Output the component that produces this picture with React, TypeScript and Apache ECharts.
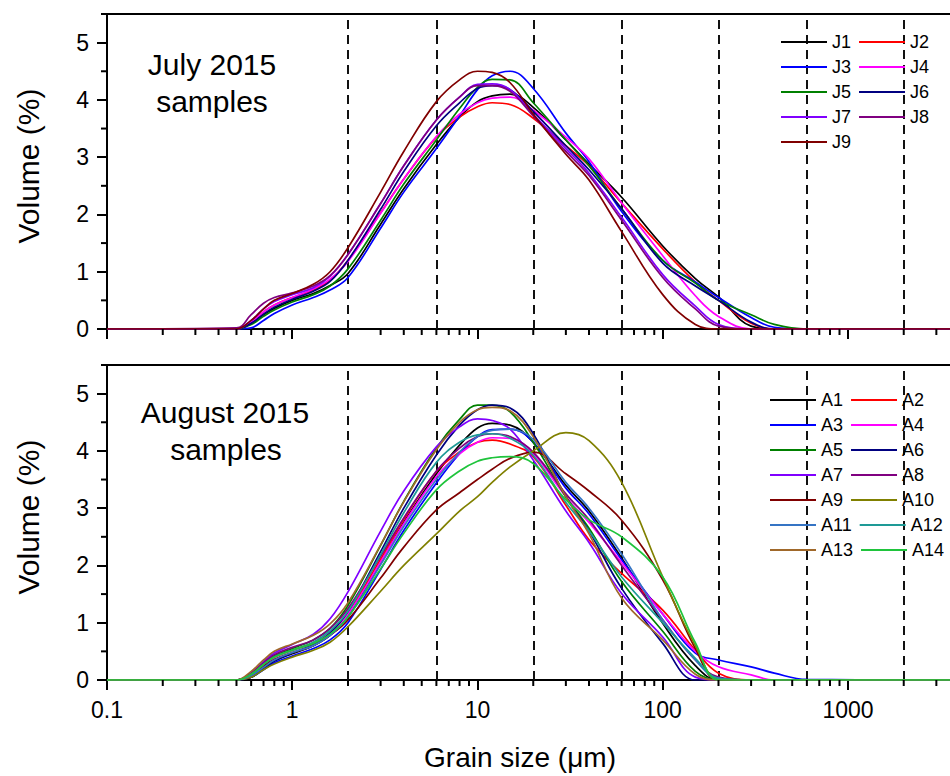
import React, { useEffect, useRef } from "react";
import * as echarts from "echarts";

// Grain size grid (µm)
const X_UM = [0.1, 0.5, 0.6, 0.7, 0.8, 1, 1.3, 1.6, 2, 3, 4, 6, 8, 10, 12, 15, 20, 30, 40, 60, 100, 150, 200, 300, 400, 600, 4000];

// July 2015 samples (volume %)
const J_NAMES = ["J1", "J2", "J3", "J4", "J5", "J6", "J7", "J8", "J9"];
const J_COLORS = ["#000000", "#FF0000", "#0000FF", "#FF00FF", "#008000", "#000080", "#8000FF", "#800080", "#800000"];
const J1 = [0, 0, 0.1, 0.25, 0.36, 0.5, 0.62, 0.76, 0.97, 1.83, 2.45, 3.22, 3.7, 3.97, 4.07, 4.1, 3.87, 3.3, 2.88, 2.3, 1.45, 0.88, 0.56, 0.05, 0, 0, 0];
const J2 = [0, 0, 0.12, 0.3, 0.42, 0.55, 0.68, 0.85, 1.2, 2.03, 2.62, 3.35, 3.7, 3.88, 3.95, 3.92, 3.68, 3.2, 2.85, 2.2, 1.4, 0.82, 0.5, 0.1, 0, 0, 0];
const J3 = [0, 0, 0.02, 0.15, 0.27, 0.42, 0.55, 0.68, 0.9, 1.76, 2.39, 3.15, 3.72, 4.18, 4.42, 4.5, 4.2, 3.42, 2.92, 2.05, 1.2, 0.82, 0.55, 0.2, 0.03, 0, 0];
const J4 = [0, 0, 0.12, 0.3, 0.42, 0.55, 0.7, 0.87, 1.18, 2.02, 2.62, 3.36, 3.75, 3.95, 4.03, 4.05, 3.82, 3.35, 2.97, 2.2, 1.28, 0.58, 0.22, 0, 0, 0, 0];
const J5 = [0, 0, 0.08, 0.22, 0.33, 0.47, 0.6, 0.75, 1.05, 1.9, 2.53, 3.3, 3.85, 4.22, 4.36, 4.35, 3.95, 3.3, 2.85, 2.1, 1.2, 0.8, 0.5, 0.25, 0.08, 0, 0];
const J6 = [0, 0, 0.1, 0.26, 0.38, 0.52, 0.66, 0.83, 1.2, 2.09, 2.75, 3.55, 3.95, 4.2, 4.25, 4.18, 3.8, 3.2, 2.78, 2.1, 1.15, 0.75, 0.5, 0.12, 0, 0, 0];
const J7 = [0, 0, 0.15, 0.35, 0.48, 0.6, 0.72, 0.92, 1.3, 2.19, 2.85, 3.65, 4.05, 4.27, 4.28, 4.18, 3.75, 3.15, 2.72, 1.95, 0.95, 0.4, 0.08, 0, 0, 0, 0];
const J8 = [0, 0.02, 0.25, 0.45, 0.55, 0.63, 0.75, 0.93, 1.3, 2.19, 2.85, 3.65, 4.05, 4.25, 4.25, 4.15, 3.72, 3.1, 2.68, 1.9, 0.9, 0.35, 0.05, 0, 0, 0, 0];
const J9 = [0, 0, 0.15, 0.35, 0.5, 0.62, 0.78, 1.0, 1.42, 2.39, 3.1, 3.97, 4.35, 4.5, 4.48, 4.3, 3.75, 3.05, 2.6, 1.7, 0.6, 0.08, 0, 0, 0, 0, 0];
const J_DATA = [J1, J2, J3, J4, J5, J6, J7, J8, J9];

// August 2015 samples (volume %)
const A_NAMES = ["A1", "A2", "A3", "A4", "A5", "A6", "A7", "A8", "A9", "A10", "A11", "A12", "A13", "A14"];
const A_COLORS = ["#000000", "#FF0000", "#0000FF", "#FF00FF", "#008000", "#000080", "#8000FF", "#800080", "#800000", "#808000", "#3574C4", "#1E9A96", "#A0682A", "#1FC43C"];
const A1 = [0, 0, 0.05, 0.2, 0.33, 0.46, 0.6, 0.78, 1.1, 2.05, 2.75, 3.6, 4.1, 4.4, 4.48, 4.45, 4.15, 3.4, 2.95, 2.13, 0.99, 0.25, 0, 0, 0, 0, 0];
const A2 = [0, 0, 0.1, 0.28, 0.4, 0.52, 0.65, 0.84, 1.18, 2.11, 2.8, 3.64, 3.98, 4.15, 4.19, 4.12, 3.9, 3.05, 2.45, 1.86, 1.22, 0.52, 0.12, 0, 0, 0, 0];
const A3 = [0, 0, 0.05, 0.18, 0.3, 0.42, 0.55, 0.7, 1.0, 1.93, 2.61, 3.44, 3.95, 4.25, 4.37, 4.38, 4.15, 3.35, 2.9, 2.1, 1.15, 0.47, 0.35, 0.23, 0.12, 0.01, 0];
const A4 = [0, 0, 0.1, 0.27, 0.4, 0.52, 0.65, 0.84, 1.15, 2.06, 2.73, 3.55, 3.95, 4.15, 4.23, 4.22, 3.95, 3.2, 2.75, 2.05, 1.15, 0.5, 0.23, 0.09, 0, 0, 0];
const A5 = [0, 0, 0.1, 0.28, 0.42, 0.55, 0.7, 0.9, 1.3, 2.35, 3.12, 4.05, 4.55, 4.8, 4.8, 4.68, 4.15, 3.2, 2.65, 1.72, 0.85, 0.15, 0, 0, 0, 0, 0];
const A6 = [0, 0, 0.05, 0.2, 0.33, 0.47, 0.62, 0.82, 1.2, 2.24, 3.0, 3.93, 4.45, 4.72, 4.8, 4.75, 4.3, 3.2, 2.6, 1.6, 0.64, 0, 0, 0, 0, 0, 0];
const A7 = [0, 0, 0.12, 0.32, 0.47, 0.62, 0.8, 1.07, 1.54, 2.6, 3.3, 4.07, 4.42, 4.56, 4.53, 4.38, 3.84, 2.95, 2.4, 1.51, 0.75, 0.05, 0, 0, 0, 0, 0];
const A8 = [0, 0, 0.12, 0.3, 0.44, 0.57, 0.7, 0.9, 1.25, 2.16, 2.83, 3.65, 4.05, 4.25, 4.3, 4.25, 3.98, 3.25, 2.8, 2.0, 1.05, 0.35, 0.05, 0, 0, 0, 0];
const A9 = [0, 0, 0.08, 0.24, 0.36, 0.48, 0.6, 0.78, 1.05, 1.78, 2.32, 2.97, 3.27, 3.5, 3.68, 3.87, 3.98, 3.6, 3.3, 2.79, 1.75, 0.55, 0, 0, 0, 0, 0];
const A10 = [0, 0, 0.05, 0.18, 0.28, 0.4, 0.52, 0.66, 0.93, 1.55, 2.0, 2.55, 2.95, 3.2, 3.45, 3.72, 4.0, 4.32, 4.18, 3.45, 1.8, 0.6, 0.02, 0, 0, 0, 0];
const A11 = [0, 0, 0.08, 0.22, 0.35, 0.48, 0.6, 0.78, 1.1, 2.01, 2.68, 3.5, 3.98, 4.25, 4.36, 4.38, 4.2, 3.45, 3.0, 2.2, 1.05, 0.35, 0.03, 0, 0, 0, 0];
const A12 = [0, 0, 0.1, 0.27, 0.4, 0.52, 0.66, 0.86, 1.2, 2.19, 2.92, 3.8, 4.15, 4.28, 4.3, 4.22, 3.92, 3.1, 2.6, 1.8, 1.0, 0.38, 0.03, 0, 0, 0, 0];
const A13 = [0, 0, 0.15, 0.35, 0.5, 0.63, 0.78, 0.98, 1.35, 2.36, 3.11, 4.02, 4.5, 4.72, 4.76, 4.7, 4.25, 3.2, 2.55, 1.43, 0.7, 0.1, 0, 0, 0, 0, 0];
const A14 = [0, 0, 0.1, 0.27, 0.4, 0.52, 0.64, 0.8, 1.1, 1.94, 2.56, 3.32, 3.65, 3.82, 3.88, 3.9, 3.78, 3.15, 2.8, 2.5, 1.8, 0.65, 0, 0, 0, 0, 0];
const A_DATA = [A1, A2, A3, A4, A5, A6, A7, A8, A9, A10, A11, A12, A13, A14];

// Size-class boundaries (dashed lines, µm)
const CLASS_LIMITS = [2, 6, 20, 60, 200, 600, 2000];
// Axis ticks
const Y_MAJOR = [0, 1, 2, 3, 4, 5];
const Y_MINOR = [0.5, 1.5, 2.5, 3.5, 4.5, 5.5];
const X_MINOR = [0.2, 0.3, 0.4, 0.5, 0.6, 0.7, 0.8, 0.9, 2, 3, 4, 5, 6, 7, 8, 9, 20, 30, 40, 50, 60, 70, 80, 90, 200, 300, 400, 500, 600, 700, 800, 900, 2000, 3000];

const FONT = '"Liberation Sans", Arial, Helvetica, sans-serif';

export default function App() {
  const ref = useRef<HTMLDivElement>(null);

  useEffect(() => {
    if (!ref.current) return;
    const chart = echarts.init(ref.current, undefined, { renderer: "svg" });

    const grids = [
      { left: 107, top: 14, width: 852.5, height: 315 },
      { left: 107, top: 365, width: 852.5, height: 315 },
    ].map((g) => ({
      ...g,
      show: true,
      borderColor: "#000",
      borderWidth: 2,
      backgroundColor: "transparent",
      containLabel: false,
      outerBoundsMode: "none",
    }));

    const xAxes = [0, 1].map((i) => ({
      type: "log",
      logBase: 10,
      gridIndex: i,
      min: 0.1,
      max: 4000,
      axisLine: { show: true, lineStyle: { color: "#000", width: 2 } },
      axisTick: { show: true, inside: false, length: 10, lineStyle: { color: "#000", width: 2 } },
      minorTick: { show: false },
      splitLine: { show: false },
      axisLabel: {
        show: i === 1,
        showMaxLabel: false,
        color: "#000",
        fontSize: 23,
        fontFamily: FONT,
        margin: 18,
        formatter: (v: number) => String(Number(Number(v).toPrecision(6))),
      },
    }));

    const yAxes = [0, 1].map((i) => ({
      type: "value",
      gridIndex: i,
      min: 0,
      max: 5.5,
      interval: 1,
      axisLine: { show: true, lineStyle: { color: "#000", width: 2 } },
      axisTick: { show: true, inside: false, length: 10, lineStyle: { color: "#000", width: 2 }, customValues: Y_MAJOR },
      splitLine: { show: false },
      axisLabel: {
        customValues: Y_MAJOR,
        color: "#000",
        fontSize: 23,
        fontFamily: FONT,
        margin: 18,
      },
    }));

    const makeLines = (names: string[], colors: string[], data: number[][], idx: number) =>
      names.map((name, k) => ({
        name,
        type: "line",
        xAxisIndex: idx,
        yAxisIndex: idx,
        data: X_UM.map((x, j) => [x, data[k][j]]),
        smooth: 0.4,
        symbol: "none",
        showSymbol: false,
        clip: true,
        lineStyle: { color: colors[k], width: 1.7 },
        itemStyle: { color: colors[k] },
        z: 3,
        markLine:
          k === 0
            ? {
                silent: true,
                symbol: "none",
                label: { show: false },
                lineStyle: { color: "#111", width: 2, type: [9, 6] },
                data: CLASS_LIMITS.map((v) => ({ xAxis: v })),
                z: 2,
              }
            : undefined,
      }));

    const minorTickData = [
      ...X_MINOR.map((v) => [v, 0, 0]),
      ...Y_MINOR.map((v) => [0.1, v, 1]),
    ];

    const makeMinor = (idx: number) => ({
      type: "custom",
      name: "minor-ticks-" + idx,
      xAxisIndex: idx,
      yAxisIndex: idx,
      silent: true,
      clip: false,
      z: 5,
      data: minorTickData,
      encode: { x: 0, y: 1 },
      renderItem: (_params: any, api: any) => {
        const kind = api.value(2);
        const p = api.coord([api.value(0), api.value(1)]);
        const shape =
          kind === 0
            ? { x1: p[0], y1: p[1], x2: p[0], y2: p[1] + 6 }
            : { x1: p[0] - 6, y1: p[1], x2: p[0], y2: p[1] };
        return { type: "line", shape, style: { stroke: "#000", lineWidth: 2 } };
      },
    });

    const legendCommon = {
      orient: "horizontal",
      width: 185,
      padding: 0,
      itemWidth: 46,
      itemHeight: 18,
      itemGap: 7,
      itemStyle: { opacity: 0 },
      textStyle: { color: "#000", fontSize: 18, fontFamily: FONT },
      selectedMode: false,
    };

    const titleFont = `30px ${FONT}`;

    const option: any = {
      animation: false,
      backgroundColor: "#fff",
      grid: grids,
      xAxis: xAxes,
      yAxis: yAxes,
      legend: [
        { ...legendCommon, left: 780, top: 33, data: J_NAMES },
        { ...legendCommon, left: 769, top: 391, data: A_NAMES },
      ],
      graphic: [
        { type: "text", x: 212, y: 64, style: { text: "July 2015", font: titleFont, fill: "#000", align: "center", verticalAlign: "middle" } },
        { type: "text", x: 212, y: 101, style: { text: "samples", font: titleFont, fill: "#000", align: "center", verticalAlign: "middle" } },
        { type: "text", x: 225, y: 412, style: { text: "August 2015", font: titleFont, fill: "#000", align: "center", verticalAlign: "middle" } },
        { type: "text", x: 226, y: 449, style: { text: "samples", font: titleFont, fill: "#000", align: "center", verticalAlign: "middle" } },
        { type: "text", x: 28, y: 166, rotation: Math.PI / 2, style: { text: "Volume (%)", font: titleFont, fill: "#000", align: "center", verticalAlign: "middle" } },
        { type: "text", x: 28, y: 517, rotation: Math.PI / 2, style: { text: "Volume (%)", font: titleFont, fill: "#000", align: "center", verticalAlign: "middle" } },
        { type: "text", x: 520, y: 757, style: { text: "Grain size (\u03bcm)", font: `28px ${FONT}`, fill: "#000", align: "center", verticalAlign: "middle" } },
      ],
      series: [
        ...makeLines(J_NAMES, J_COLORS, J_DATA, 0),
        ...makeLines(A_NAMES, A_COLORS, A_DATA, 1),
        makeMinor(0),
        makeMinor(1),
      ],
    };

    chart.setOption(option);
    return () => chart.dispose();
  }, []);

  return (
    <div
      ref={ref}
      style={{ position: "fixed", left: 0, top: 0, width: 950, height: 776, background: "#fff" }}
    />
  );
}
